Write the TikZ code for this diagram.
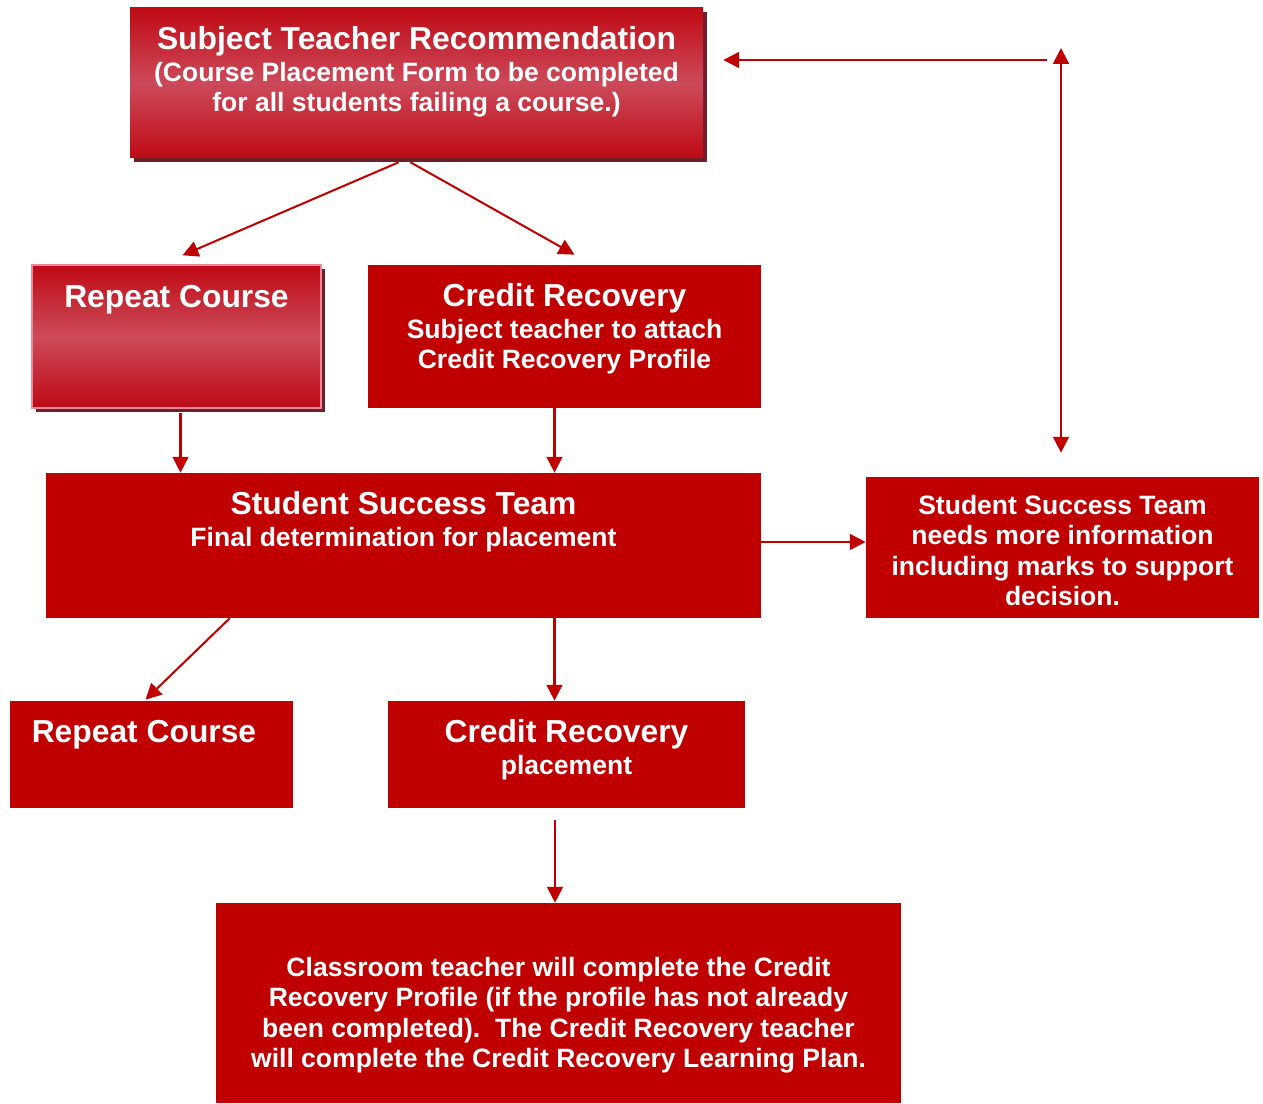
\documentclass[tikz,border=0pt]{standalone}
\usepackage{fontspec}
\setmainfont{Liberation Sans}
\usetikzlibrary{arrows.meta,calc,fit,shadows}

\definecolor{boxred}{HTML}{C00000}
\definecolor{linered}{HTML}{C00000}
\definecolor{gradred}{HTML}{BF0A14}
\definecolor{gradpink}{HTML}{CC4A5A}
\definecolor{shadowred}{HTML}{6E1E2C}
\definecolor{edgepink}{HTML}{E58A96}

\newcommand{\headfont}{\fontsize{18.1}{20}\selectfont\bfseries}
\newcommand{\bodyfont}{\fontsize{15.1}{17.4}\selectfont\bfseries}

\tikzset{
  box/.style={rectangle, fill=boxred, inner sep=0pt},
  glossbox/.style={rectangle, inner sep=0pt, top color=gradred, bottom color=gradred,
    middle color=gradpink,
    general shadow={fill=shadowred, shadow xshift=2.3pt, shadow yshift=-2.3pt}},
  boxtext/.style={anchor=north, inner sep=0pt, text=white, font=\bodyfont, align=center},
  arr/.style={draw=linered, line width=1.15pt, -{Triangle[length=9pt,width=9pt]}},
  dblarr/.style={arr, {Triangle[length=9pt,width=9pt]}-{Triangle[length=9pt,width=9pt]}},
}

\begin{document}
\begin{tikzpicture}[x=0.02cm,y=-0.02cm]
\useasboundingbox (0,0) rectangle (1263,1104);

% boxes
\node[glossbox, fit={(130,8) (703,158)}] (top) {};
\node[glossbox, draw=edgepink, line width=0.8pt, fit={(32,265) (321,408)}] (rc1) {};
\node[box, fit={(368,265) (761,408)}] (cr1) {};
\node[box, fit={(46,473) (761,618)}] (sst) {};
\node[box, fit={(866,477) (1259,618)}] (info) {};
\node[box, fit={(10,701) (293,808)}] (rc2) {};
\node[box, fit={(388,701) (745,808)}] (cr2) {};
\node[box, fit={(216,903) (901,1103)}] (bot) {};

% texts
\node[boxtext] (topT) at ($(top.north)+(0,18)$)
  {{\headfont Subject Teacher Recommendation}\\[0.8pt]
   (Course Placement Form to be completed\\
   for all students failing a course.)};
\node[boxtext] (rc1T) at ($(rc1.north)+(0,20.6)$) {{\headfont Repeat Course}};
\node[boxtext] (cr1T) at ($(cr1.north)+(0,18)$)
  {{\headfont Credit Recovery}\\[0.8pt]
   Subject teacher to attach\\
   Credit Recovery Profile};
\node[boxtext] (sstT) at ($(sst.north)+(0,18)$)
  {{\headfont Student Success Team}\\[0.8pt]
   Final determination for placement};
\node[boxtext] (infoT) at ($(info.north)+(0,18)$)
  {Student Success Team\\
   needs more information\\
   including marks to support\\
   decision.};
\node[boxtext] (rc2T) at ($(rc2.north)+(-7.5,19.6)$) {{\headfont Repeat Course}};
\node[boxtext] (cr2T) at ($(cr2.north)+(0,18)$)
  {{\headfont Credit Recovery}\\[0.8pt]
   placement};
\node[boxtext] (botT) at ($(bot.north)+(0,54)$)
  {Classroom teacher will complete the Credit\\
   Recovery Profile (if the profile has not already\\
   been completed).\ \ The Credit Recovery teacher\\
   will complete the Credit Recovery Learning Plan.};

% arrows
\draw[arr] ($(top.south)+(-18,4)$) -- ($(rc1.north)+(6,-9)$);
\draw[arr] ($(top.south)+(-6,4)$) -- ($(cr1.north)+(10,-10)$);

\coordinate (rcDrop) at ($(rc1.south)+(4,4)$);
\draw[arr] (rcDrop) -- (rcDrop |- sst.north);
\coordinate (crDrop) at ($(cr1.south)+(-10,0)$);
\draw[arr] (crDrop) -- (crDrop |- sst.north);

\coordinate (sstRight) at ($(sst.east)+(0,-3.5)$);
\draw[arr] (sstRight) -- (sstRight -| info.west);

\draw[arr] ($(sst.south west)+(184,0)$) -- ($(rc2.north)+(-6,-1)$);
\draw[arr] (crDrop |- sst.south) -- (crDrop |- cr2.north);

\coordinate (cr2Drop) at ($(cr2.south)+(-11.5,12)$);
\draw[arr] (cr2Drop) -- (cr2Drop |- bot.north);

% loop back to the recommendation
\coordinate (loopTop) at (1061,48);
\draw[dblarr, shorten >=0.48cm] (loopTop) -- (loopTop |- info.north);
\coordinate (loopTurn) at (1047,60);
\draw[arr, shorten >=0.4cm] (loopTurn) -- (loopTurn -| top.east);
\end{tikzpicture}
\end{document}
